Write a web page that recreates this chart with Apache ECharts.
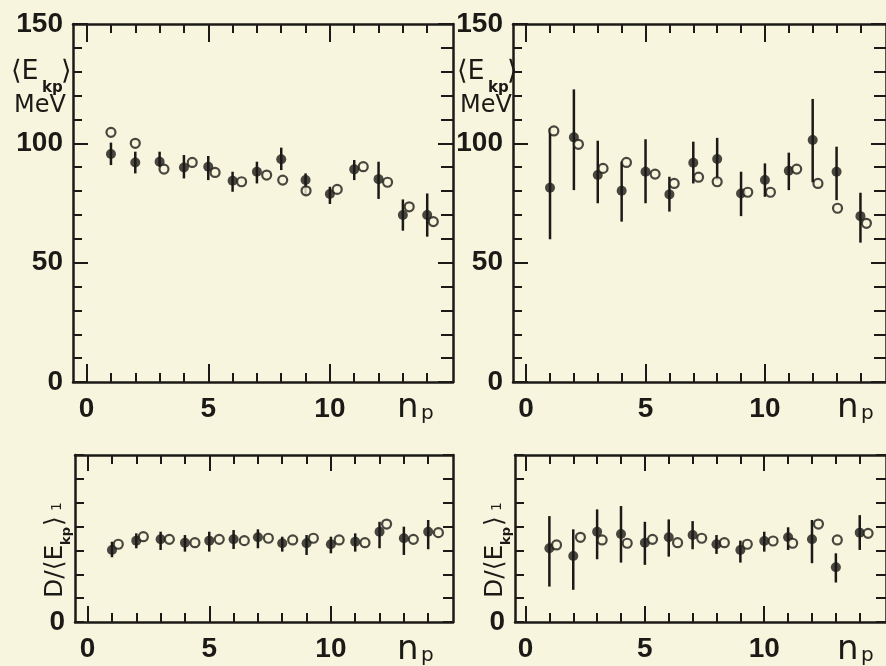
<!DOCTYPE html>
<html><head><meta charset="utf-8">
<script src="https://cdn.jsdelivr.net/npm/echarts@6/dist/echarts.min.js"></script>
<style>html,body{margin:0;padding:0;background:#f7f5dd}#c{width:886px;height:666px}</style>
</head><body><div id="c"></div>
<script>
// ---------- data ----------
const nValues = [1,2,3,4,5,6,7,8,9,10,11,12,13,14];
const majorTicksX = [0,5,10];
const minorTicksX = [1,2,3,4,6,7,8,9,11,12,13,14];

// top-left panel: <E_kp> (MeV)
const tlFilled = [95.5, 92.0, 92.3, 89.9, 90.2, 84.3, 88.1, 93.3, 84.6, 78.8, 89.1, 85.0, 70.0, 70.0];
const tlErrLo  = [90.9, 87.4, 90.2, 85.3, 84.6, 79.7, 83.2, 88.8, 78.3, 74.6, 84.6, 76.7, 63.4, 60.9];
const tlErrHi  = [100.3, 96.5, 96.5, 95.1, 94.7, 88.1, 92.3, 98.2, 87.4, 81.8, 93.0, 92.3, 76.5, 79.0];
const tlOpenX  = [1.0, 2.0, 3.18, 4.34, 5.28, 6.37, 7.4, 8.06, 9.02, 10.3, 11.37, 12.37, 13.26, 14.25];
const tlOpen   = [104.6, 100.0, 89.2, 92.0, 87.8, 83.9, 86.7, 84.6, 80.1, 80.7, 90.2, 83.7, 73.4, 67.2];

// top-right panel
const trFilled = [81.4, 102.5, 86.7, 80.1, 88.1, 78.6, 91.9, 93.4, 79.0, 84.6, 88.5, 101.4, 88.1, 69.5];
const trErrLo  = [59.8, 80.4, 74.9, 67.2, 74.9, 71.4, 83.2, 84.6, 69.5, 77.6, 80.4, 83.7, 76.2, 58.4];
const trErrHi  = [106.3, 122.6, 101.1, 92.3, 101.7, 86.0, 100.7, 102.3, 88.1, 91.6, 96.1, 118.6, 98.6, 79.3];
const trOpenX  = [1.16, 2.19, 3.22, 4.2, 5.4, 6.2, 7.22, 8.0, 9.28, 10.23, 11.33, 12.22, 13.04, 14.25];
const trOpen   = [105.2, 99.6, 89.5, 92.0, 87.1, 83.2, 85.8, 83.9, 79.5, 79.5, 89.2, 83.2, 72.8, 66.5];

// bottom-left panel: D/<E_kp>
const blFilled = [0.604, 0.682, 0.693, 0.665, 0.682, 0.693, 0.710, 0.660, 0.660, 0.652, 0.673, 0.757, 0.702, 0.757];
const blErrLo  = [0.543, 0.618, 0.604, 0.590, 0.590, 0.612, 0.618, 0.590, 0.562, 0.576, 0.590, 0.618, 0.562, 0.610];
const blErrHi  = [0.673, 0.743, 0.757, 0.729, 0.757, 0.771, 0.777, 0.715, 0.729, 0.715, 0.743, 0.840, 0.799, 0.855];
const blOpenX  = [1.26, 2.29, 3.36, 4.41, 5.41, 6.44, 7.43, 8.43, 9.28, 10.34, 11.4, 12.29, 13.39, 14.42];
const blOpen   = [0.652, 0.715, 0.693, 0.665, 0.693, 0.682, 0.702, 0.688, 0.702, 0.688, 0.665, 0.821, 0.693, 0.749];

// bottom-right panel
const brFilled = [0.618, 0.554, 0.757, 0.738, 0.665, 0.710, 0.729, 0.652, 0.604, 0.679, 0.710, 0.693, 0.459, 0.749];
const brErrLo  = [0.297, 0.270, 0.526, 0.498, 0.479, 0.548, 0.610, 0.571, 0.498, 0.590, 0.604, 0.493, 0.331, 0.604];
const brErrHi  = [0.888, 0.777, 0.944, 0.972, 0.840, 0.860, 0.846, 0.729, 0.682, 0.757, 0.794, 0.855, 0.576, 0.896];
const brOpenX  = [1.3, 2.3, 3.21, 4.26, 5.32, 6.37, 7.38, 8.33, 9.29, 10.37, 11.19, 12.27, 13.06, 14.35];
const brOpen   = [0.646, 0.710, 0.688, 0.660, 0.693, 0.665, 0.702, 0.665, 0.652, 0.679, 0.660, 0.821, 0.688, 0.743];

// ---------- styling / layout ----------
const INK = '#1c1a17', BG = '#f7f5dd';
const NUMFONT = "'Liberation Sans','Arial',sans-serif";
const TXTFONT = "'DejaVu Sans','Liberation Sans',sans-serif";

const panels = [
  {left:73,  top:24,  width:380, height:358, xmin:-0.56, xmax:15.06, ymax:150, yint:50, minor:5, kind:'E',
   filled:tlFilled, lo:tlErrLo, hi:tlErrHi, openX:tlOpenX, open:tlOpen},
  {left:513, top:24,  width:380, height:358, xmin:-0.55, xmax:15.07, ymax:150, yint:50, minor:5, kind:'E',
   filled:trFilled, lo:trErrLo, hi:trErrHi, openX:trOpenX, open:trOpen},
  {left:75,  top:455, width:378, height:167, xmin:-0.52, xmax:15.02, ymax:1.4, yint:0.2, minor:0, kind:'D',
   filled:blFilled, lo:blErrLo, hi:blErrHi, openX:blOpenX, open:blOpen},
  {left:515, top:455, width:378, height:167, xmin:-0.44, xmax:15.10, ymax:1.4, yint:0.2, minor:0, kind:'D',
   filled:brFilled, lo:brErrLo, hi:brErrHi, openX:brOpenX, open:brOpen}
];

const lineStyle = {color: INK, width: 2.5};
const tickStyle = {color: INK, width: 2};
const numLabel = {color: INK, fontFamily: NUMFONT, fontWeight: 'bold', fontSize: 28};

const grid = [], xAxis = [], yAxis = [], series = [];
panels.forEach((p, i) => {
  grid.push({left: p.left, top: p.top, width: p.width, height: p.height, containLabel: false});
  const xBase = {type: 'value', gridIndex: i, min: p.xmin, max: p.xmax, splitLine: {show: false}};
  const bigX = p.kind === 'E' ? 18 : 16;
  xAxis.push(Object.assign({}, xBase, {position: 'bottom',
    axisLine: {show: true, onZero: false, lineStyle},
    axisTick: {show: true, inside: true, length: bigX, customValues: majorTicksX, lineStyle: tickStyle},
    axisLabel: Object.assign({show: true, customValues: majorTicksX, margin: 13}, numLabel)}));
  xAxis.push(Object.assign({}, xBase, {position: 'bottom',
    axisLine: {show: false, onZero: false},
    axisTick: {show: true, inside: true, length: 9, customValues: minorTicksX, lineStyle: tickStyle},
    axisLabel: {show: false}}));
  xAxis.push(Object.assign({}, xBase, {position: 'top',
    axisLine: {show: true, onZero: false, lineStyle},
    axisTick: {show: true, inside: true, length: bigX, customValues: majorTicksX, lineStyle: tickStyle},
    axisLabel: {show: false}}));
  xAxis.push(Object.assign({}, xBase, {position: 'top',
    axisLine: {show: false, onZero: false},
    axisTick: {show: true, inside: true, length: 9, customValues: minorTicksX, lineStyle: tickStyle},
    axisLabel: {show: false}}));

  const yBase = {type: 'value', gridIndex: i, min: 0, max: p.ymax, interval: p.yint,
    splitLine: {show: false}, minorSplitLine: {show: false}};
  yAxis.push(Object.assign({}, yBase, {position: 'left',
    axisLine: {show: true, onZero: false, lineStyle},
    axisTick: {show: true, inside: true, length: p.minor ? 15 : 9, lineStyle: tickStyle},
    minorTick: {show: p.minor > 0, splitNumber: p.minor || 5, length: 9, lineStyle: tickStyle},
    axisLabel: Object.assign({show: true, margin: 10,
      formatter: v => (p.kind === 'E' ? String(v) : (v === 0 ? '0' : ''))}, numLabel)}));
  yAxis.push(Object.assign({}, yBase, {position: 'right',
    axisLine: {show: true, onZero: false, lineStyle},
    axisTick: {show: true, inside: true, length: p.minor ? 15 : 10, lineStyle: tickStyle},
    minorTick: {show: p.minor > 0, splitNumber: p.minor || 5, length: 12, lineStyle: tickStyle},
    axisLabel: {show: false}}));

  series.push({type: 'custom', xAxisIndex: 4 * i, yAxisIndex: 2 * i, silent: true, clip: false, z: 2,
    data: nValues.map((n, k) => [n, p.lo[k], p.hi[k]]),
    encode: {x: 0, y: [1, 2]},
    renderItem: (params, api) => {
      const a = api.coord([api.value(0), api.value(1)]);
      const b = api.coord([api.value(0), api.value(2)]);
      return {type: 'line', shape: {x1: a[0], y1: a[1], x2: b[0], y2: b[1]},
        style: {stroke: INK, lineWidth: 2.5}};
    }});
  series.push({type: 'scatter', xAxisIndex: 4 * i, yAxisIndex: 2 * i, silent: true, z: 3,
    symbol: 'circle', symbolSize: 10, itemStyle: {color: INK},
    data: nValues.map((n, k) => [n, p.filled[k]])});
  series.push({type: 'scatter', xAxisIndex: 4 * i, yAxisIndex: 2 * i, silent: true, z: 4,
    symbol: 'circle', symbolSize: 9, itemStyle: {color: BG, borderColor: INK, borderWidth: 2.2},
    data: p.openX.map((x, k) => [x, p.open[k]])});
});

// ---------- text labels ----------
const graphic = [];
function txt(x, y, text, size, weight, family, extra) {
  return Object.assign({type: 'text', x, y, silent: true, z: 10,
    style: {text, fill: INK, fontSize: size, fontWeight: weight || 'normal', fontFamily: family || TXTFONT,
      align: 'left', verticalAlign: 'middle'}}, extra || {});
}
[0, 446].forEach(dx => {
  graphic.push(txt(11 + dx, 72, '⟨E', 27));
  graphic.push(txt(42 + dx, 88, 'kp', 15, 'bold'));
  graphic.push(txt(61 + dx, 72, '⟩', 27));
  graphic.push(txt(14 + dx, 106, 'MeV', 24));
});
// n_p axis names
[[397, 408], [837, 408], [397, 650], [837, 650]].forEach(([x, y]) => {
  graphic.push(txt(x, y, 'n', 34));
  graphic.push(txt(x + 24, y + 6, 'p', 20));
});
// rotated D/<E_kp> labels
[55, 495].forEach(x => {
  graphic.push({type: 'group', x: x, y: 598, rotation: Math.PI / 2, silent: true, children: [
    txt(0, 0, 'D/⟨E', 25),
    txt(53, 12, 'kp', 13, 'bold'),
    txt(72, 0, '⟩', 25),
    txt(87, 2, '1', 14)
  ]});
});

const chart = echarts.init(document.getElementById('c'), null, {renderer: 'canvas'});
chart.setOption({
  backgroundColor: BG,
  animation: false,
  grid, xAxis, yAxis, series, graphic
});
</script>
</body></html>
